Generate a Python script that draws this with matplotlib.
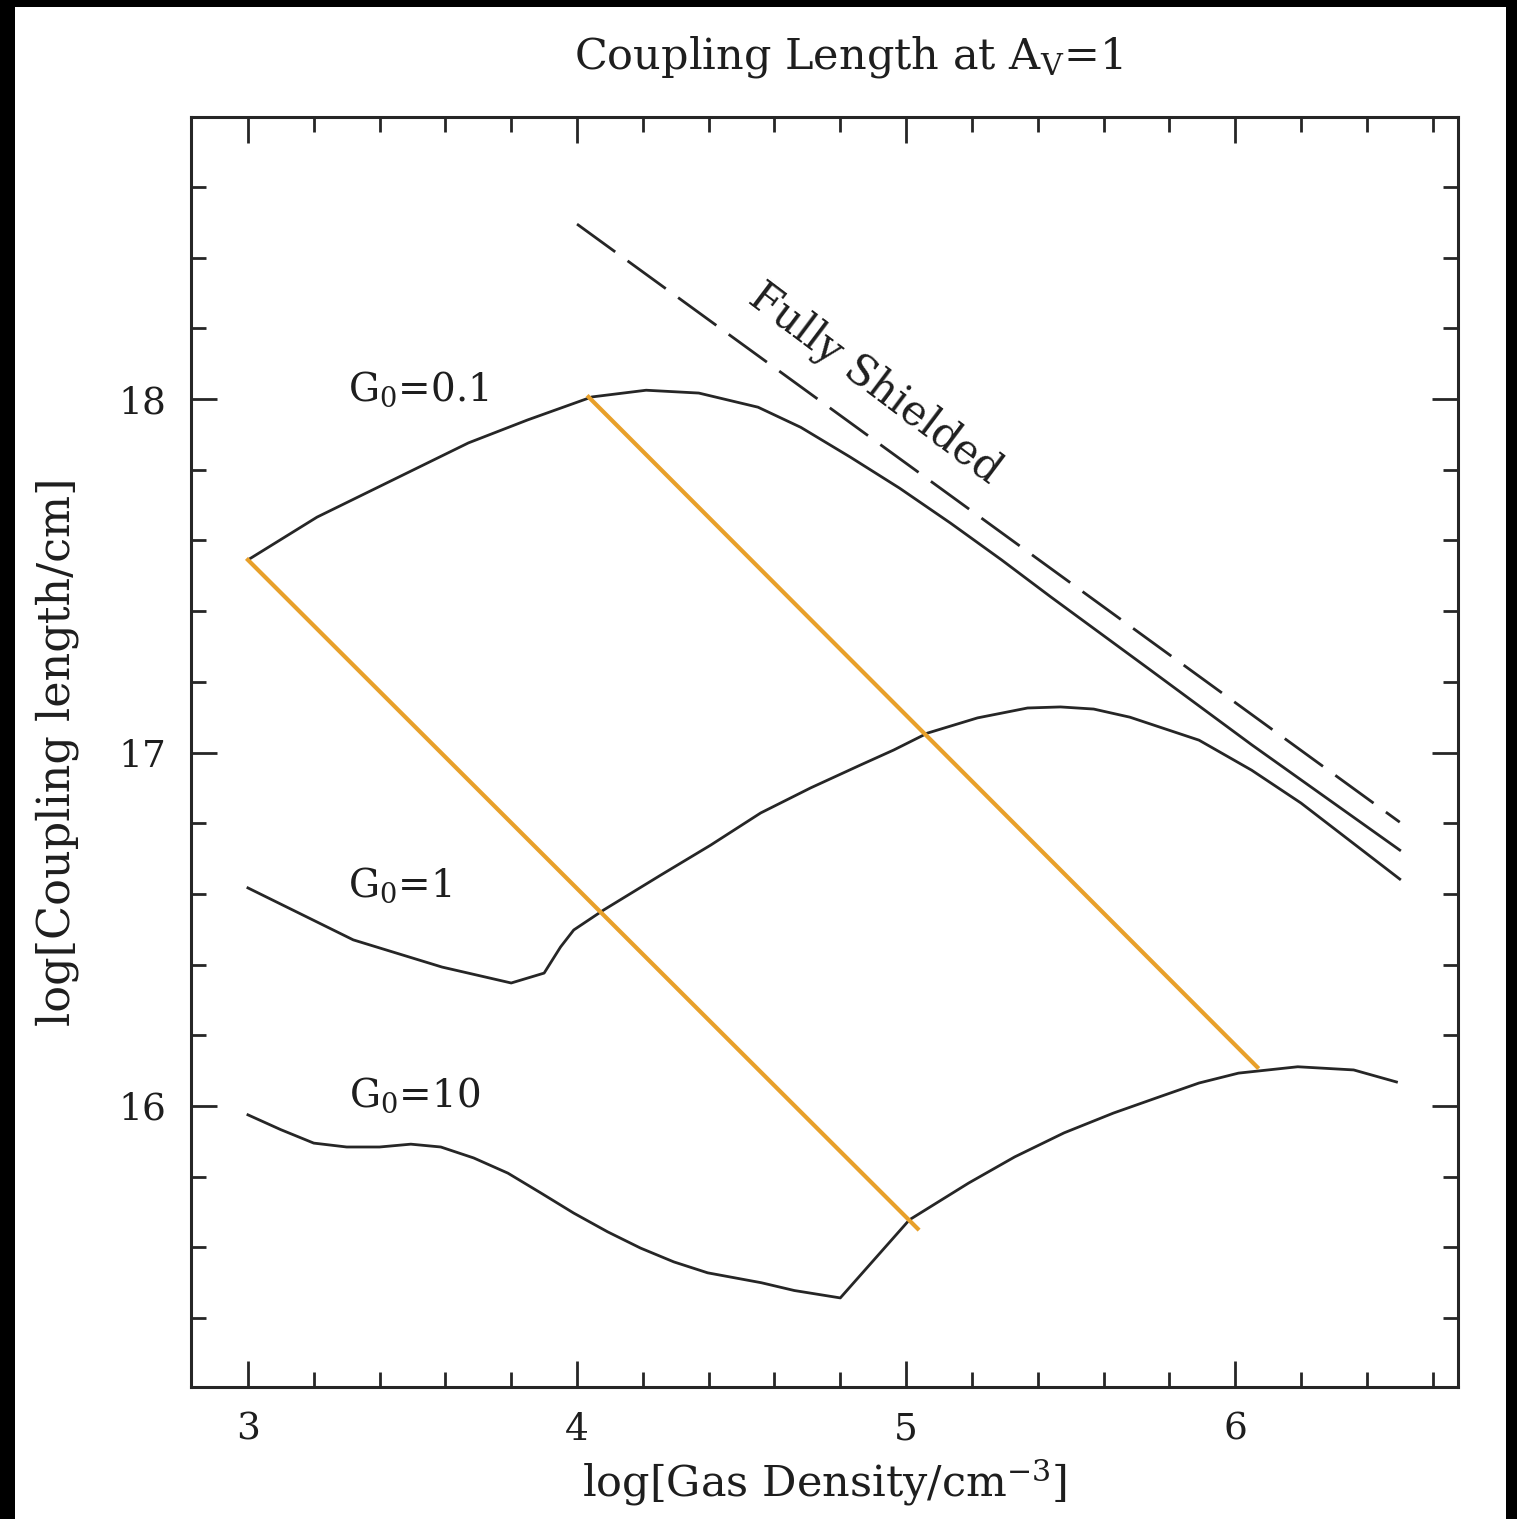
import matplotlib
matplotlib.use("Agg")
import matplotlib.pyplot as plt
from matplotlib.patches import Rectangle

plt.rcParams['font.family'] = 'DejaVu Serif'
plt.rcParams['mathtext.fontset'] = 'dejavuserif'

# curves: log density vs log coupling length
g01X = [3.00, 3.21, 3.44, 3.67, 3.85, 4.045, 4.21, 4.37, 4.55, 4.68, 4.83, 4.98, 5.135, 5.29, 5.44, 5.74, 6.05, 6.50]
g01Y = [17.545, 17.666, 17.771, 17.876, 17.941, 18.006, 18.025, 18.017, 17.977, 17.920, 17.836, 17.748, 17.649, 17.545, 17.44, 17.235, 17.022, 16.724]

g1X = [3.00, 3.32, 3.59, 3.80, 3.90, 3.95, 3.99, 4.08, 4.254, 4.406, 4.558, 4.710, 4.862, 4.962,
       5.065, 5.217, 5.369, 5.469, 5.57, 5.68, 5.89, 6.05, 6.20, 6.50]
g1Y = [16.617, 16.470, 16.393, 16.348, 16.376, 16.450, 16.498, 16.554, 16.653, 16.738, 16.829, 16.900, 16.965, 17.007,
       17.055, 17.098, 17.126, 17.129, 17.123, 17.100, 17.035, 16.95, 16.857, 16.642]

g10X = [3.00, 3.10, 3.20, 3.30, 3.40, 3.495, 3.586, 3.686, 3.79, 3.89, 3.99, 4.093, 4.193, 4.294, 4.397,
        4.56, 4.66, 4.80, 5.01, 5.19, 5.33, 5.48, 5.63, 5.77, 5.89, 6.01, 6.19, 6.36, 6.49]
g10Y = [15.975, 15.933, 15.895, 15.884, 15.884, 15.892, 15.884, 15.853, 15.810, 15.754, 15.697, 15.644, 15.598, 15.559, 15.528,
        15.50, 15.478, 15.457, 15.678, 15.782, 15.856, 15.924, 15.98, 16.026, 16.065, 16.093, 16.111, 16.102, 16.068]

shieldX = [4.0, 6.5]
shieldY = [18.495, 16.803]

orange1X = [3.0, 5.035]
orange1Y = [17.545, 15.653]
orange2X = [4.035, 6.067]
orange2Y = [18.006, 16.110]

labels = ["G$_0$=0.1", "G$_0$=1", "G$_0$=10"]
labelX = [3.305, 3.303, 3.306]
labelY = [17.994, 16.592, 15.998]

W, H = 1517, 1519
fig = plt.figure(figsize=(W / 100, H / 100), dpi=100, facecolor='black')
# white page inside the black frame
fig.add_artist(Rectangle((15 / W, 0), (1506 - 15) / W, (H - 7) / H,
                         transform=fig.transFigure, facecolor='white', edgecolor='none', zorder=-10))

ax = fig.add_axes([191 / W, 1 - 1387 / H, (1458 - 191) / W, (1387 - 117) / H])

lineCol = '#262626'
txtCol = '#1e1e1e'
ax.plot(g01X, g01Y, color=lineCol, lw=2.0)
ax.plot(g1X, g1Y, color=lineCol, lw=2.0)
ax.plot(g10X, g10Y, color=lineCol, lw=2.0)
ax.plot(shieldX, shieldY, color=lineCol, lw=2.0, dashes=(17, 5.5))
ax.plot(orange1X, orange1Y, color='#E8A02A', lw=3.0)
ax.plot(orange2X, orange2Y, color='#E8A02A', lw=3.0)

for lab, lx, ly in zip(labels, labelX, labelY):
    ax.text(lx, ly, lab, fontsize=28, va='baseline', ha='left', color=txtCol)

ax.text(4.905, 18.045, "Fully Shielded", fontsize=30, rotation=-37, ha='center', va='center',
        rotation_mode='anchor', color=txtCol)

ax.set_xlim(2.827, 6.677)
ax.set_ylim(15.205, 18.798)

ax.set_xticks([3, 4, 5, 6])
ax.set_xticks([x / 10 for x in range(30, 67, 2)], minor=True)
ax.set_yticks([16, 17, 18])
ax.set_yticks([y / 10 for y in range(154, 188, 2)], minor=True)

ax.tick_params(which='both', direction='in', top=True, right=True, width=2.0, color=lineCol,
               labelsize=27, pad=18, labelcolor=txtCol)
ax.tick_params(which='major', length=19)
ax.tick_params(which='minor', length=10.5)
for s in ax.spines.values():
    s.set_linewidth(2.2)
    s.set_color(lineCol)

ax.set_xlabel("log[Gas Density/cm$^{-3}$]", fontsize=31, color=txtCol)
ax.xaxis.label.set_va('baseline')
ax.xaxis.set_label_coords(0.5, -0.0866)
ax.set_ylabel("log[Coupling length/cm]", fontsize=32, color=txtCol)
ax.yaxis.label.set_va('center')
ax.yaxis.set_label_coords(-0.106, 0.5)

fig.text(848 / W, 1 - 68 / H, "Coupling Length at A$_\\mathrm{V}$=1", fontsize=31,
         ha='center', va='baseline', color=txtCol)

fig.savefig("out.png", dpi=100, facecolor=fig.get_facecolor())
